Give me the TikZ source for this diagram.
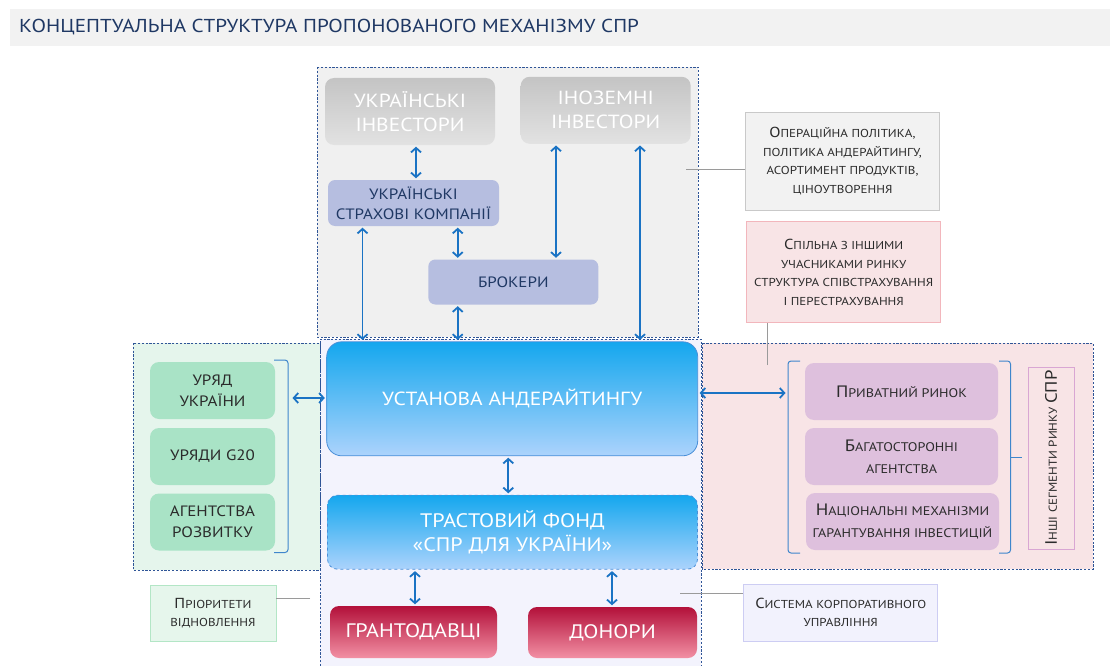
\documentclass[tikz,border=0pt]{standalone}
\usepackage{fontspec}
\setmainfont{PT Sans}[FakeStretch=1.13]
\usetikzlibrary{arrows.meta,calc}
\definecolor{titlebg}{HTML}{F2F2F2}
\definecolor{navy}{HTML}{1F3864}
\definecolor{regionline}{HTML}{2F5597}
\definecolor{topbg}{HTML}{F0F0F0}
\definecolor{midbg}{HTML}{F3F3FD}
\definecolor{greenbg}{HTML}{E5F5EC}
\definecolor{pinkbg}{HTML}{F8E4E6}
\definecolor{invtop}{HTML}{C4C4C4}
\definecolor{invbot}{HTML}{E2E2E2}
\definecolor{uskfill}{HTML}{B6BEE0}
\definecolor{uatop}{HTML}{14A7EE}
\definecolor{uabot}{HTML}{ACD3FC}
\definecolor{uaborder}{HTML}{4A8FD8}
\definecolor{grtop}{HTML}{B3103A}
\definecolor{grbot}{HTML}{F290A4}
\definecolor{greenbox}{HTML}{A9E3C6}
\definecolor{pinkbox}{HTML}{DEC0DD}
\definecolor{arrowblue}{HTML}{1A73C4}
\definecolor{bracket}{HTML}{3F86CC}
\definecolor{noteonefill}{HTML}{F2F2F2}
\definecolor{noteonedraw}{HTML}{C9C9C9}
\definecolor{notetwodraw}{HTML}{F2B6BC}
\definecolor{prifill}{HTML}{E6F6EC}
\definecolor{pridraw}{HTML}{B3E6C6}
\definecolor{corpfill}{HTML}{F2F2FD}
\definecolor{corpdraw}{HTML}{CDCDF3}
\definecolor{vldraw}{HTML}{D9A6D3}
\definecolor{linegray}{HTML}{9A9A9A}
\definecolor{darktext}{HTML}{2B2B2B}
\newcommand{\Bg}[1]{{\fontsize{14.5}{16}\selectfont #1}}
\newcommand{\Bgg}[1]{{\fontsize{16.5}{18}\selectfont #1}}
\begin{document}
\begin{tikzpicture}[x=1pt,y=-1pt,
  region/.style={draw=regionline, line width=0.8pt, dash pattern=on 2.2pt off 1.6pt},
  base/.style={inner sep=0pt, align=center},
  inv/.style={base, rounded corners=9pt, top color=invtop, bottom color=invbot, text=white, font=\fontsize{19}{24}\selectfont},
  usk/.style={base, rounded corners=7pt, fill=uskfill, text=navy, font=\fontsize{15}{20}\selectfont},
  main/.style={base, rounded corners=15pt, top color=uatop, bottom color=uabot, draw=uaborder, line width=0.8pt, text=white, font=\fontsize{19}{24}\selectfont},
  red/.style={base, rounded corners=9pt, top color=grtop, bottom color=grbot, text=white, font=\fontsize{19.5}{20}\selectfont},
  gbox/.style={base, rounded corners=9pt, fill=greenbox, text=darktext, font=\fontsize{15}{21}\selectfont, minimum width=125pt, minimum height=57pt},
  pbox/.style={base, rounded corners=9pt, fill=pinkbox, text=darktext, font=\fontsize{12.5}{22}\selectfont, minimum width=193pt, minimum height=57pt},
  note/.style={base, text=darktext, font=\fontsize{11.5}{18.5}\selectfont, line width=0.8pt},
  dar/.style={draw=arrowblue, line width=1.8pt, {Straight Barb[length=4.5pt,width=10pt]}-{Straight Barb[length=4.5pt,width=10pt]}, shorten <=1.5pt, shorten >=1.5pt},
  brk/.style={draw=bracket, line width=1pt, rounded corners=3pt},
  conn/.style={draw=linegray, line width=0.8pt}]
\useasboundingbox (0,0) rectangle (1110,666);
% title
\fill[titlebg] (10,9) rectangle (1110,46);
\node[anchor=west, text=navy, inner sep=0pt, font=\fontsize{18.7}{20}\selectfont] (title) at (19,27.5) {КОНЦЕПТУАЛЬНА СТРУКТУРА ПРОПОНОВАНОГО МЕХАНІЗМУ СПР};
% regions
\fill[midbg] (320,339) rectangle (701,666);
\draw[region] (320,666) -- (320,339) -- (701,339) -- (701,666);
\draw[region, fill=greenbg] (133,343) rectangle (320,570);
\draw[region, fill=pinkbg] (702,343) rectangle (1093,569);
\draw[region, fill=topbg] (317,67) rectangle (698,337);
% top nodes
\node[inv, minimum width=170pt, minimum height=67pt] (ui) at (410,111.5) {УКРАЇНСЬКІ\\ІНВЕСТОРИ};
\node[inv, minimum width=170pt, minimum height=67pt] (fi) at (605.7,110.3) {ІНОЗЕМНІ\\ІНВЕСТОРИ};
\node[usk, minimum width=171pt, minimum height=46pt] (usk) at (413.5,203) {УКРАЇНСЬКІ\\СТРАХОВІ КОМПАНІЇ};
\node[usk, minimum width=170pt, minimum height=45pt] (br) at (513.3,282) {БРОКЕРИ};
% central nodes
\node[main, minimum width=371pt, minimum height=114pt] (ua) at (512.2,398.8) {УСТАНОВА АНДЕРАЙТИНГУ};
\node[main, dashed, rounded corners=10pt, minimum width=370pt, minimum height=74pt, font=\fontsize{19.5}{24}\selectfont] (tf) at (512.5,532.2) {ТРАСТОВИЙ ФОНД\\«СПР ДЛЯ УКРАЇНИ»};
\node[red, minimum width=167pt, minimum height=52pt] (gr) at (413.5,632) {ГРАНТОДАВЦІ};
\node[red, minimum width=169pt, minimum height=51pt] (don) at (612.5,632.5) {ДОНОРИ};
% left group
\node[gbox] (g1) at (212.5,390.5) {УРЯД\\УКРАЇНИ};
\node[gbox] (g2) at (212.5,456.5) {УРЯДИ G20};
\node[gbox] (g3) at (212.5,522) {АГЕНТСТВА\\РОЗВИТКУ};
\draw[brk] (274,360) -- (288,360) -- (288,552.5) -- (274,552.5);
\coordinate (lbr) at (291,398);
% right group
\node[pbox] (p1) at (901.5,391.5) {\Bgg{П}РИВАТНИЙ РИНОК};
\node[pbox] (p2) at (901.5,456.5) {\Bgg{Б}АГАТОСТОРОННІ\\АГЕНТСТВА};
\node[pbox] (p3) at (902.5,521.5) {\Bgg{Н}АЦІОНАЛЬНІ МЕХАНІЗМИ\\ГАРАНТУВАННЯ ІНВЕСТИЦІЙ};
\draw[brk] (800,361) -- (788,361) -- (788,553) -- (800,553);
\draw[brk] (999,361) -- (1010.5,361) -- (1010.5,553) -- (999,553);
\draw[draw=bracket, line width=1pt] (1010.5,457.5) -- (1022,457.5);
\coordinate (rbr) at (787,393);
\node[base, draw=vldraw, line width=0.8pt, fill=pinkbg, minimum width=182pt, minimum height=46pt, rotate=90, text=darktext, font=\fontsize{11.5}{14}\selectfont] (vl) at (1051,458) {\Bgg{І}НШІ СЕГМЕНТИ РИНКУ \Bgg{СПР}};
% notes
\node[note, fill=noteonefill, draw=noteonedraw, minimum width=194pt, minimum height=98pt] (n1) at (842.5,161.2) {\Bg{О}ПЕРАЦІЙНА ПОЛІТИКА,\\ПОЛІТИКА АНДЕРАЙТИНГУ,\\АСОРТИМЕНТ ПРОДУКТІВ,\\ЦІНОУТВОРЕННЯ};
\node[note, fill=pinkbg, draw=notetwodraw, minimum width=194pt, minimum height=101pt] (n2) at (843.7,272.2) {\Bg{С}ПІЛЬНА З ІНШИМИ\\УЧАСНИКАМИ РИНКУ\\СТРУКТУРА СПІВСТРАХУВАННЯ\\І ПЕРЕСТРАХУВАННЯ};
\node[note, fill=prifill, draw=pridraw, minimum width=126pt, minimum height=56pt] (pri) at (213,613) {\Bg{П}РІОРИТЕТИ\\ВІДНОВЛЕННЯ};
\node[note, fill=corpfill, draw=corpdraw, minimum width=194pt, minimum height=57pt] (corp) at (840.8,612.5) {\Bg{С}ИСТЕМА КОРПОРАТИВНОГО\\УПРАВЛІННЯ};
% note connectors
\coordinate (c1) at (686,169);
\coordinate (c2) at (767,365);
\coordinate (c3) at (310,598);
\coordinate (c4) at (680,593);
\draw[conn] (c1) -- (n1.west |- c1);
\draw[conn] (c2) -- (c2 |- n2.south);
\draw[conn] (c3) -- (pri.east |- c3);
\draw[conn] (c4) -- (corp.west |- c4);
% arrows
\draw[dar] (416,0 |- ui.south) -- (416,0 |- usk.north);
\draw[dar] (362.5,0 |- usk.south) -- (362.5,0 |- ua.north);
\draw[dar] (457.7,0 |- usk.south) -- (457.7,0 |- br.north);
\draw[dar] (457.7,0 |- br.south) -- (457.7,0 |- ua.north);
\draw[dar] (556,0 |- fi.south) -- (556,0 |- br.north);
\draw[dar] (640,0 |- fi.south) -- (640,0 |- ua.north);
\draw[dar] (508.3,0 |- ua.south) -- (508.3,0 |- tf.north);
\draw[dar] (415,0 |- tf.south) -- (415,0 |- gr.north);
\draw[dar] (612,0 |- tf.south) -- (612,0 |- don.north);
\draw[dar] (lbr) -- (ua.west |- lbr);
\draw[dar] (ua.east |- rbr) -- (rbr);
\end{tikzpicture}
\end{document}
